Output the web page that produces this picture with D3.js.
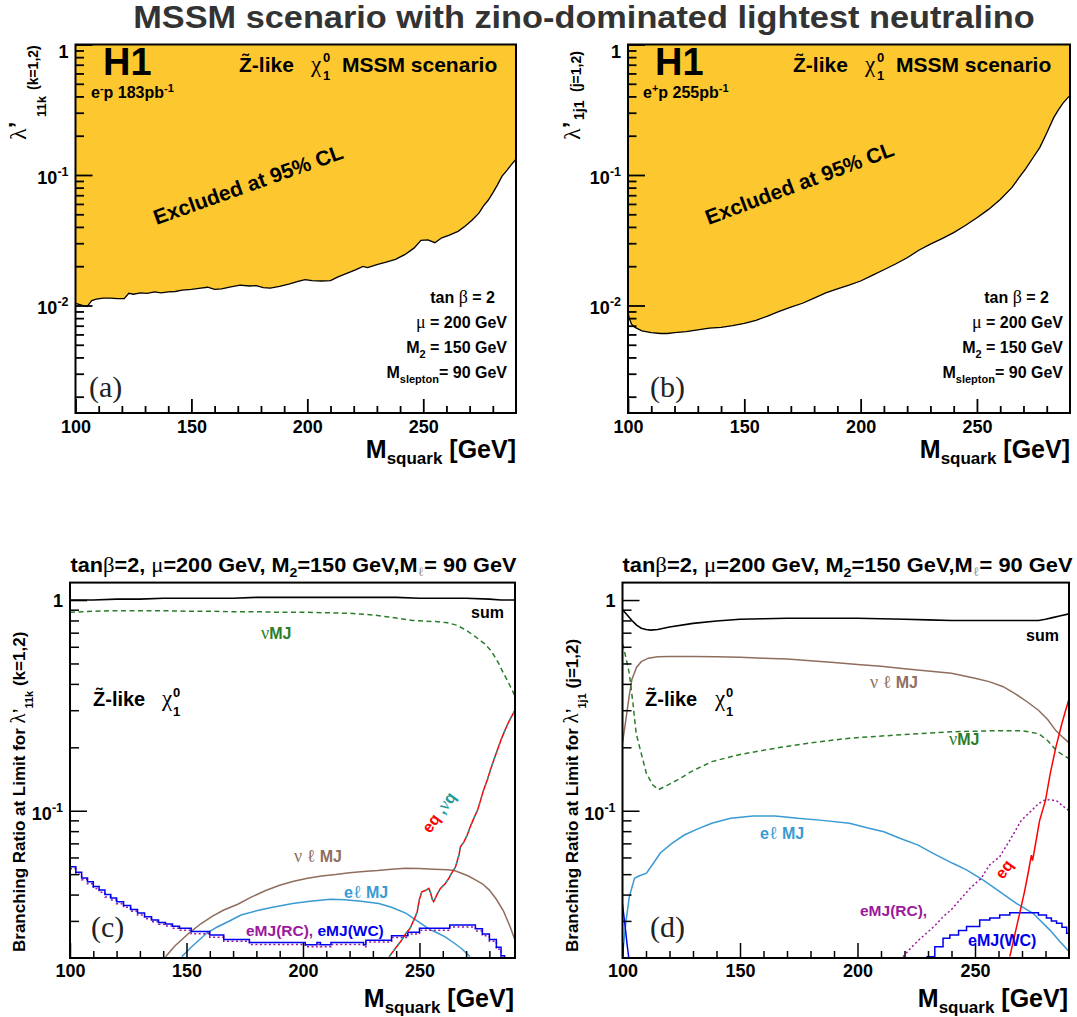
<!DOCTYPE html>
<html><head><meta charset="utf-8">
<script src="https://cdn.jsdelivr.net/npm/d3@7"></script>
<style>body{margin:0;background:#fff} svg{display:block}</style>
</head><body><script>
// ---------------- DATA ----------------
// Panel (a): 95% CL limit on lambda'_11k vs squark mass (e-p)
const limitA_M = [100,103,105,107,109,112,115,118,121,123,125,128,131,134,137,140,143,146,150,154,157,160,163,167,171,175,178,181,184,188,192,196,199,202,206,210,213,217,221,224,226,230,234,238,242,246,249,252,255,258,261,265,268,271,274,276,278,280,282,284,286,288,290];
const limitA_L = [0.0104,0.0100,0.0098,0.0109,0.0112,0.0114,0.0114,0.0113,0.0113,0.0124,0.0122,0.0125,0.0124,0.0127,0.0125,0.0127,0.0128,0.0131,0.0133,0.0136,0.0138,0.0133,0.0134,0.0139,0.0143,0.0141,0.0142,0.0137,0.0136,0.0140,0.0146,0.0153,0.0158,0.0155,0.0154,0.0155,0.0165,0.0176,0.0188,0.0199,0.0195,0.0206,0.0215,0.0226,0.0245,0.0275,0.0316,0.0318,0.0303,0.0330,0.0345,0.0370,0.0405,0.0450,0.0510,0.0580,0.0640,0.0730,0.0840,0.0980,0.1080,0.1200,0.1320];
// Panel (b): limit on lambda'_1j1 (e+p)
const limitB_M = [100,100.5,101.5,103,106,110,114,117,120,125,130,135,140,145,150,155,160,165,170,175,180,185,190,195,200,205,210,215,220,225,230,235,240,245,250,255,260,265,268,271,274,277,280,283,285,287,289,290];
const limitB_L = [0.0090,0.0080,0.0072,0.0068,0.0064,0.0062,0.0061,0.0061,0.0062,0.0063,0.0065,0.0067,0.0068,0.0070,0.0073,0.0077,0.0083,0.0090,0.0097,0.0104,0.0114,0.0125,0.0134,0.0143,0.0154,0.0170,0.0188,0.0208,0.0232,0.0265,0.0295,0.0325,0.0362,0.0410,0.0470,0.0545,0.0650,0.0800,0.0950,0.1120,0.1350,0.1620,0.2100,0.2750,0.3150,0.3550,0.3900,0.4060];

// Panel (c): branching ratios, lambda'_11k
const sumC_M = [100,110,120,130,140,150,160,170,180,190,200,210,220,230,240,250,260,270,280,285,291];
const sumC   = [1.00,1.00,1.01,1.01,1.02,1.02,1.02,1.02,1.03,1.03,1.03,1.03,1.03,1.03,1.03,1.02,1.02,1.02,1.01,1.00,1.00];
const nuMJC_M = [100,105,110,120,130,140,150,160,170,180,190,200,210,220,230,237,242,247,252,257,262,266,270,274,278,281,284,286,288,291];
const nuMJC   = [0.875,0.88,0.885,0.89,0.89,0.89,0.885,0.885,0.88,0.88,0.875,0.875,0.87,0.865,0.85,0.83,0.815,0.80,0.795,0.79,0.78,0.76,0.72,0.67,0.62,0.57,0.50,0.45,0.41,0.35];
const eqC_M = [237,240,242,244,246,248,249,250,251,252.5,254,254.7,255.5,256.1,257.5,259,261,262.6,264,265.5,267,267.6,269,270.5,272,273.3,275,276.2,277.5,279.1,280.5,281.9,283.5,285,286.5,288,289.5,291];
const eqC   = [0.0203,0.0225,0.024,0.026,0.0277,0.031,0.0331,0.038,0.0412,0.0418,0.0428,0.041,0.038,0.037,0.040,0.0428,0.045,0.0478,0.051,0.0542,0.062,0.0675,0.071,0.0767,0.085,0.092,0.101,0.112,0.125,0.14,0.157,0.174,0.195,0.217,0.238,0.26,0.28,0.30];
const nuqC  = [0.0203,0.0225,0.024,0.026,0.0277,0.031,0.0331,0.038,0.0412,0.0418,0.0428,0.041,0.038,0.037,0.040,0.0428,0.045,0.0478,0.051,0.0542,0.062,0.0675,0.071,0.0767,0.085,0.092,0.101,0.112,0.125,0.14,0.157,0.174,0.195,0.217,0.238,0.26,0.28,0.30];
const nulMJC_M = [141,145,151,156,161,166,172,178,184,190,196,202,208,214,220,226,232,238,244,250,256,262,265,268,271,274,277,280,283,286,289,291];
const nulMJC   = [0.0203,0.0228,0.0262,0.029,0.0315,0.0338,0.036,0.039,0.0418,0.0443,0.0463,0.0478,0.049,0.0498,0.0508,0.0515,0.052,0.0527,0.0533,0.0532,0.0528,0.0525,0.052,0.0505,0.049,0.047,0.045,0.042,0.038,0.0335,0.028,0.0243];
const elMJC_M = [148,152,158.6,163,168,173.4,180,187,195.6,203,211.8,218,225,232.5,238,244.3,249,254.7,258,261,265,268,271.7];
const elMJC   = [0.0203,0.0225,0.0262,0.028,0.0298,0.032,0.0335,0.0348,0.0363,0.0372,0.038,0.0378,0.0372,0.0363,0.0348,0.0326,0.030,0.0272,0.0262,0.0252,0.0235,0.0222,0.0203];
const wcC_M = [100,102.5,105,107.5,110,112.5,115,117.5,120,123,126,129,132,135,138,141,144,147,152,160,166,177,201,206,207.5,212,226,227,238,245,250,263,274,277,280,283,285,286.5];
const wcC   = [0.0542,0.051,0.048,0.046,0.0437,0.042,0.040,0.0385,0.037,0.0355,0.034,0.0327,0.0314,0.0303,0.0295,0.029,0.0283,0.0277,0.0267,0.0257,0.0245,0.0237,0.0231,0.0237,0.0231,0.0237,0.0231,0.0243,0.0255,0.0265,0.0277,0.0287,0.0275,0.026,0.0245,0.0225,0.0205,0.0195];
const rcC_M = [100,102.5,105,107.5,110,112.5,115,117.5,120,123,126,129,132,135,138,141,144,147,152,160,166,177,201,206,207.5,212,226,227,238,245,250,263,274,277,280,283,285,286.5];
const rcC   = [0.053,0.050,0.047,0.045,0.0428,0.041,0.039,0.0377,0.0362,0.0348,0.0333,0.032,0.0307,0.0297,0.0289,0.0284,0.0277,0.0271,0.0261,0.0251,0.024,0.0232,0.0226,0.0232,0.0226,0.0232,0.0226,0.0238,0.025,0.026,0.0271,0.0281,0.0269,0.0255,0.024,0.022,0.0201,0.0191];

// Panel (d): branching ratios, lambda'_1j1
const sumD_M = [100,102,104,106,108,110,112,115,120,130,140,150,160,170,180,190,200,210,220,230,240,250,260,270,277,280,283,286,290];
const sumD   = [0.90,0.85,0.80,0.76,0.735,0.725,0.72,0.725,0.745,0.775,0.795,0.81,0.815,0.82,0.82,0.82,0.82,0.815,0.81,0.805,0.80,0.80,0.80,0.80,0.80,0.81,0.825,0.84,0.86];
const nulMJD_M = [100,101,102,103,104,106,108,111,115,120,130,140,150,160,170,180,190,200,210,220,230,240,250,256,262,267,272,277,281,284.4,287,290];
const nulMJD   = [0.21,0.25,0.30,0.36,0.42,0.48,0.51,0.53,0.538,0.54,0.54,0.538,0.535,0.53,0.525,0.515,0.505,0.495,0.485,0.472,0.46,0.449,0.425,0.41,0.388,0.36,0.33,0.30,0.27,0.24,0.225,0.21];
const nuMJD_M = [100,101.5,102.9,104.5,105.8,107.3,110.2,113,115.4,119,123.4,130,138,150,167.3,180,196.6,220,240.5,260,270,277.1,281,284.4,287,290];
const nuMJD   = [0.62,0.53,0.449,0.32,0.233,0.20,0.15,0.132,0.126,0.132,0.14,0.155,0.171,0.185,0.20,0.21,0.221,0.23,0.237,0.24,0.24,0.232,0.215,0.194,0.185,0.177];
const elMJD_M = [100,101.5,102.9,105.1,107,110.2,113,116.1,121,126.3,132,138,146,155.6,165,174.6,185,196.6,204,211.2,218,225.8,232.2,240.5,246.4,253.5,260.5,267.6,274.7,281.8,286,290];
const elMJD   = [0.0205,0.030,0.039,0.0478,0.049,0.0505,0.056,0.063,0.070,0.0767,0.082,0.0872,0.092,0.0944,0.0945,0.092,0.090,0.0872,0.083,0.0795,0.074,0.0687,0.0628,0.0563,0.0524,0.0469,0.0413,0.0363,0.0326,0.0272,0.024,0.0215];
const rcD_M = [219.4,223,226,229.3,233,236.4,240,243.5,248,252.7,256,260.5,265,269.7,274,277,279.3,282,285,287,290];
const rcD   = [0.0203,0.0225,0.0243,0.0262,0.0285,0.0314,0.034,0.0377,0.043,0.0478,0.055,0.0605,0.073,0.090,0.10,0.108,0.112,0.113,0.111,0.106,0.10];
const wcD1_M = [100,101,102,102.8];
const wcD1   = [0.036,0.029,0.023,0.0195];
const wcD2_M = [229.3,232.9,236.4,239.3,243,246.4,252,256.3,260.5,264.8,274.7,277,280.4,282.5,284.7,287,289,290];
const wcD2   = [0.0203,0.0226,0.0248,0.0257,0.027,0.0282,0.0303,0.031,0.032,0.0328,0.0328,0.032,0.031,0.030,0.0292,0.028,0.0262,0.0255];
const eqD_M = [264.8,267,269,271,272.6,274,274.5,275.4,277.5,280,282,284.4,287,290];
const eqD   = [0.0203,0.026,0.0326,0.041,0.0505,0.0616,0.058,0.066,0.090,0.112,0.15,0.20,0.26,0.34];

// Tick values / labels
const xMajorTicks = [100,150,200,250];
const xMinorTicks = [110,120,130,140,160,170,180,190,210,220,230,240,260,270,280];
const yMajorAB = [1,0.1,0.01];
const yLabelsAB = ["1","10^-1","10^-2"];
const yMinorAB = [0.002,0.003,0.004,0.005,0.006,0.007,0.008,0.009,0.02,0.03,0.04,0.05,0.06,0.07,0.08,0.09,0.2,0.3,0.4,0.5,0.6,0.7,0.8,0.9];
const yMajorCD = [1,0.1];
const yLabelsCD = ["1","10^-1"];
const yMinorCD = [0.03,0.04,0.05,0.06,0.07,0.08,0.09,0.2,0.3,0.4,0.5,0.6,0.7,0.8,0.9];

// ---------------- DRAWING ----------------
const SANS = '"Liberation Sans", Arial, Helvetica, sans-serif';
const SERIF = '"Liberation Serif", "Times New Roman", serif';
const C = {yellow:"#fdc82f", green:"#2b7d2b", brown:"#8f6e5e", lblue:"#3a9ad3", blue:"#0000ee", purple:"#9b189b", red:"#ff0000", teal:"#1a9a9a"};

const svg = d3.select("body").append("svg").attr("width",1077).attr("height",1017);
const defs = svg.append("defs");

function rich(parent, x, y, segs, o={}) {
  const t = parent.append("text").attr("x",x).attr("y",y)
    .attr("font-family",SANS).attr("font-weight","bold")
    .attr("font-size",o.size||16).attr("fill",o.fill||"#000")
    .attr("text-anchor",o.anchor||"start");
  if (o.rotate) t.attr("transform",`rotate(${o.rotate},${x},${y})`);
  segs.forEach(s => {
    if (typeof s === "string") s = {t:s};
    const ts = t.append("tspan").text(s.t);
    if (s.size) ts.attr("font-size", s.size);
    if (s.serif) ts.attr("font-family", SERIF).attr("font-weight","normal");
    if (s.dy) ts.attr("dy", s.dy);
    if (s.dx) ts.attr("dx", s.dx);
    if (s.fill) ts.attr("fill", s.fill);
  });
  return t;
}
function fitWidth(t, cx, w) {
  const bw = t.node().getBBox().width;
  const s = w / bw;
  t.attr("transform", `translate(${cx},0) scale(${s},1) translate(${-cx},0)`);
}

function makePanel(spec) {
  const x = d3.scaleLinear().domain(spec.xd).range([spec.x0, spec.x1]);
  const y = d3.scaleLog().domain(spec.yd).range([spec.yb, spec.yt]);
  const id = "clip_" + spec.name;
  defs.append("clipPath").attr("id", id).append("rect")
    .attr("x", spec.x0).attr("y", spec.yt).attr("width", spec.x1 - spec.x0).attr("height", spec.yb - spec.yt);
  const g = svg.append("g");
  const plot = g.append("g").attr("clip-path", `url(#${id})`);
  return {spec, x, y, g, plot};
}

function drawAxes(P) {
  const {spec, x, y, g} = P;
  const style = a => { a.select(".domain").remove(); a.selectAll("line").attr("stroke","#000").attr("stroke-width",spec.tw); };
  const xb = g.append("g").attr("transform",`translate(0,${spec.yb})`)
    .call(d3.axisBottom(x).tickValues(xMajorTicks).tickSize(-spec.xMaj).tickFormat(d3.format("d")));
  const xm = g.append("g").attr("transform",`translate(0,${spec.yb})`)
    .call(d3.axisBottom(x).tickValues(xMinorTicks).tickSize(-spec.xMin).tickFormat(""));
  const yl = g.append("g").attr("transform",`translate(${spec.x0},0)`)
    .call(d3.axisLeft(y).tickValues(spec.yMajor).tickSize(-spec.yMaj).tickPadding(7).tickFormat(""));
  const ym = g.append("g").attr("transform",`translate(${spec.x0},0)`)
    .call(d3.axisLeft(y).tickValues(spec.yMinor).tickSize(-spec.yMin).tickFormat(""));
  [xb,xm,yl,ym].forEach(style);
  [xb,yl].forEach(a => a.attr("font-family",SANS).attr("font-size",18).attr("font-weight","bold"));
  xb.selectAll(".tick text").attr("fill","#000").attr("dy",null).attr("y", spec.xLabOff);
  yl.selectAll(".tick text").each(function(d){
    const lab = spec.yLabels[spec.yMajor.indexOf(d)];
    const t = d3.select(this).text(null).attr("dy",null).attr("fill","#000");
    if (lab.includes("^")) {
      const [b,e] = lab.split("^");
      t.attr("y", spec.expOff);
      t.append("tspan").text(b);
      t.append("tspan").attr("dy",-8).attr("font-size",12.5).text(e);
    } else {
      t.attr("y", spec.oneOff).text(lab);
    }
  });
  g.append("rect").attr("x",spec.x0).attr("y",spec.yt).attr("width",spec.x1-spec.x0).attr("height",spec.yb-spec.yt)
    .attr("fill","none").attr("stroke","#000").attr("stroke-width",2);
}

function series(P, Ms, Vs, o) {
  const data = d3.zip(Ms, Vs);
  const ln = d3.line().x(d=>P.x(d[0])).y(d=>P.y(d[1])).curve(o.step ? d3.curveStepAfter : d3.curveLinear);
  const p = P.plot.append("path").attr("d", ln(data)).attr("fill","none")
    .attr("stroke", o.color).attr("stroke-width", o.w || 1.5);
  if (o.dash) p.attr("stroke-dasharray", o.dash);
}

function limitPanel(P, Ms, Ls) {
  const data = d3.zip(Ms, Ls);
  const area = d3.area().x(d=>P.x(d[0])).y0(P.spec.yt).y1(d=>P.y(d[1]));
  P.plot.append("path").attr("d", area(data)).attr("fill", C.yellow);
  const ln = d3.line().x(d=>P.x(d[0])).y(d=>P.y(d[1]));
  P.plot.append("path").attr("d", ln(data)).attr("fill","none").attr("stroke","#000").attr("stroke-width",1.3);
}

const specAB = {xd:[100,290], yd:[0.0015,1], yt:44.5, yb:413, xMaj:14, xMin:7, yMaj:17, yMin:8.5, tw:1.8,
  yMajor:yMajorAB, yLabels:yLabelsAB, yMinor:yMinorAB, xLabOff:19.5, expOff:8.5, oneOff:13};
const specCD = {yd:[0.02,1.21], yt:582.6, yb:958, xMaj:15, xMin:7, yMaj:17, yMin:9, tw:1.5,
  yMajor:yMajorCD, yLabels:yLabelsCD, yMinor:yMinorCD, xLabOff:19, expOff:9, oneOff:6.5};

const PA = makePanel(Object.assign({name:"a", x0:75.5, x1:516}, specAB));
const PB = makePanel(Object.assign({name:"b", x0:628, x1:1070}, specAB));
const PC = makePanel(Object.assign({name:"c", x0:70, x1:515, xd:[100,291]}, specCD));
const PD = makePanel(Object.assign({name:"d", x0:622.5, x1:1069, xd:[100,290]}, specCD));

limitPanel(PA, limitA_M, limitA_L);
limitPanel(PB, limitB_M, limitB_L);

// panel c curves
series(PC, sumC_M, sumC, {color:"#000", w:1.6});
series(PC, nuMJC_M, nuMJC, {color:C.green, dash:"5,3.5"});
series(PC, nulMJC_M, nulMJC, {color:C.brown});
series(PC, elMJC_M, elMJC, {color:C.lblue});
series(PC, rcC_M, rcC, {color:C.purple, dash:"2,2.5", step:true});
series(PC, wcC_M, wcC, {color:C.blue, step:true});
series(PC, eqC_M, eqC, {color:C.red});
series(PC, eqC_M, nuqC, {color:C.teal, dash:"3,4", w:1.3});

// panel d curves
series(PD, sumD_M, sumD, {color:"#000", w:1.6});
series(PD, nulMJD_M, nulMJD, {color:C.brown});
series(PD, nuMJD_M, nuMJD, {color:C.green, dash:"5,3.5"});
series(PD, elMJD_M, elMJD, {color:C.lblue});
series(PD, rcD_M, rcD, {color:C.purple, dash:"2,2.5"});
series(PD, wcD1_M, wcD1, {color:C.blue});
series(PD, wcD2_M, wcD2, {color:C.blue, step:true});
series(PD, eqD_M, eqD, {color:C.red});

[PA,PB,PC,PD].forEach(drawAxes);

// ---------------- TEXT ----------------
const T = svg.append("g");
const title = rich(T, 584, 28, ["MSSM scenario with zino-dominated lightest neutralino"], {size:31, anchor:"middle", fill:"#333"});
fitWidth(title, 584, 902);

// x-axis titles
[[516,458],[1070,458],[514,1007],[1068,1007]].forEach(([xx,yy]) =>
  rich(T, xx, yy, ["M",{t:"squark",size:17,dy:6},{t:" [GeV]",dy:-6}], {size:25, anchor:"end"}));

// y-axis titles (a),(b)
rich(T, 26, 140, [{t:"λ",serif:true},"’"], {size:24, rotate:-90});
rich(T, 46, 117, ["11k"], {size:13, rotate:-90});
rich(T, 38, 90, ["(k=1,2)"], {size:14, rotate:-90});
rich(T, 580, 140, [{t:"λ",serif:true},"’"], {size:24, rotate:-90});
rich(T, 584, 120, ["1j1"], {size:14, rotate:-90});
rich(T, 581, 92, ["(j=1,2)"], {size:14, rotate:-90});

// y-axis titles (c),(d)
rich(T, 25, 952, ["Branching Ratio at Limit for  ",{t:"λ",serif:true,size:21},"’",{t:"11k",size:11,dy:8},{t:"  (k=1,2)",dy:-8}], {size:17, rotate:-90});
rich(T, 578, 952, ["Branching Ratio at Limit for  ",{t:"λ",serif:true,size:21},"’",{t:"1j1",size:11,dy:8},{t:"  (j=1,2)",dy:-8}], {size:17, rotate:-90});

// panel headers (a),(b)
function header(x0, label, sup, zx, chix, mssmx) {
  rich(T, x0+12, 75, ["H1"], {size:38});
  rich(T, x0, 98, ["e",{t:sup,size:11,dy:-6},{t:"p "+label,dy:6},{t:"-1",size:11,dy:-6}], {size:16});
  rich(T, zx, 72, ["Z\u0303-like"], {size:21});
  rich(T, chix, 72, [{t:"χ",serif:true}], {size:23});
  rich(T, chix+12, 62, ["0"], {size:13});
  rich(T, chix+12, 80, ["1"], {size:13});
  rich(T, mssmx, 72, ["MSSM scenario"], {size:21});
}
header(91, "183pb", "-", 239, 311, 342);
header(643, "255pb", "+", 793, 865, 896);

rich(T, 156.5, 225, ["Excluded at 95% CL"], {size:21, rotate:-19.6});
rich(T, 708.6, 225, ["Excluded at 95% CL"], {size:21, rotate:-20.5});

function params(xTan, xEnd) {
  rich(T, xTan, 303, ["tan ",{t:"β",serif:true,size:18}," = 2"], {size:16, anchor:"end"});
  rich(T, xEnd, 328, [{t:"μ",serif:true,size:18},"  = 200 GeV"], {size:16, anchor:"end"});
  rich(T, xEnd, 353, ["M",{t:"2",size:11,dy:5},{t:" = 150 GeV",dy:-5}], {size:16, anchor:"end"});
  rich(T, xEnd, 378, ["M",{t:"slepton",size:11,dy:5},{t:"= 90 GeV",dy:-5}], {size:16, anchor:"end"});
}
params(495, 507);
params(1049, 1063);

const tag = (x,y,s) => T.append("text").attr("x",x).attr("y",y).attr("font-family",SERIF).attr("font-size",30).attr("fill","#222").text(s);
tag(89,397,"(a)"); tag(650,397,"(b)"); tag(91,937,"(c)"); tag(650,937,"(d)");

// panel (c),(d) titles
function cdTitle(x0, w) {
  const t = rich(T, x0, 572, ["tan",{t:"β",serif:true,size:21},"=2,  ",{t:"μ",serif:true,size:21},"=200 GeV, M",{t:"2",size:13,dy:5},{t:"=150 GeV,M",dy:-5},
    {t:"ℓ\u0303",serif:true,size:13,dy:4,fill:"#999"},{t:"= 90 GeV",dy:-4}], {size:20});
  fitWidth(t, x0, w);
}
cdTitle(70.5, 447);
cdTitle(622.5, 451);

function zlike(zx, chix) {
  rich(T, zx, 706, ["Z\u0303-like"], {size:20});
  rich(T, chix, 706, [{t:"χ",serif:true}], {size:23});
  rich(T, chix+11, 697, ["0"], {size:13});
  rich(T, chix+11, 716, ["1"], {size:13});
}
zlike(93, 162);
zlike(645, 715);

// panel (c) labels
rich(T, 504, 618, ["sum"], {size:16, anchor:"end"});
rich(T, 261, 639, [{t:"ν",serif:true,size:18},"MJ"], {size:16, fill:C.green});
rich(T, 294, 862, [{t:"ν ",serif:true,size:18},{t:"ℓ ",serif:true,size:18},"MJ"], {size:16, fill:C.brown});
rich(T, 344, 898, ["e",{t:"ℓ ",serif:true,size:18},"MJ"], {size:16, fill:C.lblue});
rich(T, 246, 936, [{t:"eMJ(RC), ",fill:C.purple},{t:"eMJ(WC)",fill:C.blue}], {size:15.5});
rich(T, 430, 834, [{t:"eq",fill:C.red},{t:" ,",fill:C.teal},{t:"ν",serif:true,fill:C.teal,size:18},{t:"q",fill:C.teal}], {size:16, rotate:-54});

// panel (d) labels
rich(T, 1059, 641, ["sum"], {size:16, anchor:"end"});
rich(T, 870, 688, [{t:"ν ",serif:true,size:18},{t:"ℓ ",serif:true,size:18},"MJ"], {size:16, fill:C.brown});
rich(T, 949, 745, [{t:"ν",serif:true,size:18},"MJ"], {size:16, fill:C.green});
rich(T, 760, 839, ["e",{t:"ℓ ",serif:true,size:18},"MJ"], {size:16, fill:C.lblue});
rich(T, 860, 916, ["eMJ(RC),"], {size:15.5, fill:C.purple});
rich(T, 968, 946, ["eMJ(WC)"], {size:16, fill:C.blue});
rich(T, 1003, 880, ["eq"], {size:16, fill:C.red, rotate:-54});
</script></body></html>
